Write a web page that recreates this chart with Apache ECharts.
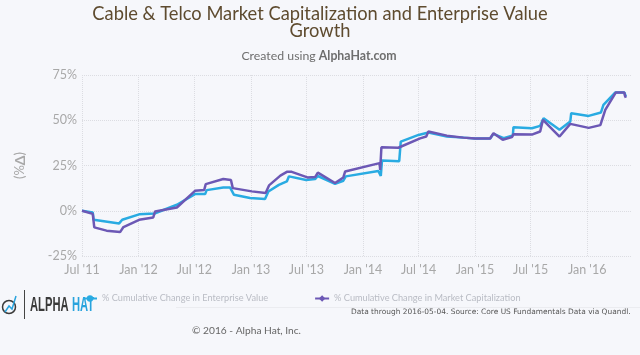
<!DOCTYPE html>
<html>
<head>
<meta charset="utf-8">
<style>
  html, body { margin: 0; padding: 0; background: #f6f7fb; }
  #chart { width: 640px; height: 355px; }
</style>
<script src="https://cdn.jsdelivr.net/npm/echarts@6/dist/echarts.min.js"></script>
</head>
<body>
<div id="chart"></div>
<script>
const FONT = "Lato, 'Noto Sans', sans-serif";

const tickDates = ['2011-07-01', '2012-01-01', '2012-07-01', '2013-01-01', '2013-07-01', '2014-01-01',
  '2014-07-01', '2015-01-01', '2015-07-01', '2016-01-01'];
const tickLabels = ["Jul '11", "Jan '12", "Jul '12", "Jan '13", "Jul '13", "Jan '14",
  "Jul '14", "Jan '15", "Jul '15", "Jan '16"];

const evDates = ['2011-07-01', '2011-08-05', '2011-08-08', '2011-10-30', '2011-11-09', '2012-01-03', '2012-02-22',
  '2012-05-05', '2012-07-03', '2012-08-05', '2012-08-10', '2012-10-03', '2012-10-25', '2012-11-07', '2012-12-29',
  '2013-02-16', '2013-02-27', '2013-04-02', '2013-04-28', '2013-05-05', '2013-06-30', '2013-07-29', '2013-08-07',
  '2013-10-02', '2013-10-29', '2013-11-06', '2014-02-20', '2014-02-28', '2014-03-04', '2014-04-29', '2014-05-04',
  '2014-07-01', '2014-08-02', '2014-08-08', '2014-10-01', '2014-11-24', '2015-01-01', '2015-02-19', '2015-03-02',
  '2015-04-04', '2015-05-04', '2015-05-06', '2015-07-05', '2015-08-01', '2015-08-07', '2015-08-12', '2015-10-03',
  '2015-11-07', '2015-11-10', '2016-01-06', '2016-02-15', '2016-02-23', '2016-04-01', '2016-05-01', '2016-05-06'];
const evValues = [0, -0.9, -5, -7, -5, -2, -1.5,
  3.3, 9.2, 9.2, 11.4, 12.8, 12.9, 8.8, 7,
  6.5, 10.6, 14.3, 16.2, 19, 17, 17.5, 19.2,
  14.9, 16.6, 19, 22, 19.3, 27.8, 27.4, 38.2,
  41.9, 43.2, 43.8, 41, 40.4, 39.9, 39.9, 42.5,
  40.1, 41.6, 46.2, 45.6, 46.9, 46.9, 51.1, 44.7,
  49.3, 53.9, 52.4, 54.3, 58.5, 65.3, 65.3, 63.1];

const capDates = ['2011-07-01', '2011-08-05', '2011-08-10', '2011-09-19', '2011-11-02', '2011-11-13', '2012-01-03',
  '2012-02-18', '2012-02-24', '2012-02-25', '2012-05-05', '2012-07-03', '2012-08-02', '2012-08-07', '2012-10-03',
  '2012-10-28', '2012-11-03', '2013-01-04', '2013-02-18', '2013-03-01', '2013-04-07', '2013-04-28', '2013-05-14',
  '2013-07-04', '2013-07-29', '2013-08-07', '2013-10-02', '2013-10-29', '2013-11-04', '2014-02-24', '2014-02-26',
  '2014-03-02', '2014-04-26', '2014-07-06', '2014-07-26', '2014-08-02', '2014-08-08', '2014-10-01', '2014-11-24',
  '2015-01-01', '2015-02-19', '2015-03-02', '2015-04-01', '2015-05-01', '2015-05-06', '2015-07-05', '2015-08-01',
  '2015-08-04', '2015-08-10', '2015-10-03', '2015-11-07', '2016-01-06', '2016-02-13', '2016-02-29', '2016-04-03',
  '2016-05-01', '2016-05-03', '2016-05-06'];
const capValues = [0, -1.7, -9.2, -11, -11.8, -9, -5,
  -3.7, -0.4, -1.3, 1.8, 11, 11.5, 14.7, 17.5,
  17, 12.5, 10.7, 9.8, 14, 19.4, 21.5, 21.5,
  18.4, 18.6, 21.1, 15.3, 18.4, 21.7, 26.3, 22.6,
  35.1, 34.8, 40, 41, 43.8, 44.2, 41.5, 40.4,
  39.9, 39.9, 42.8, 39.2, 40.7, 42.3, 42.1, 43.8,
  42.9, 50.2, 41, 48, 45.8, 47.3, 55.7, 65.3,
  65.3, 63.5, 62.4];

const EV_NAME = '% Cumulative Change in Enterprise Value';
const CAP_NAME = '% Cumulative Change in Market Capitalization';
const BLUE = '#29abe2';
const PURPLE = '#6c58b5';
const TICK_GREY = '#a8a8a8';

function toTime(d) {
  return Date.UTC(+d.slice(0, 4), +d.slice(5, 7) - 1, +d.slice(8, 10));
}

function zip(dates, values) {
  return dates.map((d, i) => [toTime(d), values[i]]);
}

// time axis rejects customValues, so x is a value axis in ms with half-year ticks
const tickTimes = tickDates.map(toTime);

const chart = echarts.init(document.getElementById('chart'));
chart.setOption({
  backgroundColor: '#f6f7fb',
  animation: false,
  textStyle: { fontFamily: FONT },
  title: [
    {
      text: 'Cable & Telco Market Capitalization and Enterprise Value\nGrowth',
      left: 315, top: 1, textAlign: 'center',
      textStyle: { fontFamily: FONT, fontSize: 18.3, fontWeight: 'normal', color: '#5e4b2f', lineHeight: 17 },
    },
    {
      text: 'Created using {b|AlphaHat.com}',
      left: 314, top: 45, textAlign: 'center',
      textStyle: {
        fontFamily: FONT, fontSize: 12.3, fontWeight: 'normal', color: '#6e6e6e',
        rich: { b: { fontFamily: FONT, fontSize: 12.3, fontWeight: 'bold', color: '#6e6e6e' } },
      },
    },
  ],
  legend: {
    left: 77, top: 289, itemGap: 46, itemWidth: 14, itemHeight: 8,
    textStyle: { fontFamily: FONT, fontSize: 9.2, color: '#b9bcc4' },
    data: [EV_NAME, CAP_NAME],
  },
  grid: { left: 82, right: 8, top: 75, bottom: 99 },
  xAxis: {
    type: 'value',
    min: toTime('2011-07-01'),
    max: toTime('2016-05-26'),
    axisLine: { show: false },
    axisTick: { show: false, customValues: tickTimes },
    axisLabel: {
      customValues: tickTimes,
      color: TICK_GREY, fontSize: 12.5, margin: 7,
      formatter: (v) => tickLabels[tickTimes.indexOf(v)] || '',
    },
    splitLine: { show: true, lineStyle: { color: '#dcdde2', type: 'dotted', width: 1 } },
  },
  yAxis: {
    type: 'value',
    min: -25, max: 75, interval: 25,
    name: '(%{b|Δ})',
    nameLocation: 'middle',
    nameGap: 55,
    nameTextStyle: {
      color: TICK_GREY, fontSize: 13,
      rich: { b: { color: TICK_GREY, fontSize: 14, fontWeight: 'bold' } },
    },
    axisLine: { show: false },
    axisTick: { show: false },
    axisLabel: { color: TICK_GREY, fontSize: 12.5, margin: 5, formatter: '{value}%' },
    splitLine: { lineStyle: { color: '#dcdde2', type: 'dotted', width: 1 } },
  },
  series: [
    {
      name: EV_NAME, type: 'line', showSymbol: false, symbol: 'circle', symbolSize: 8,
      lineStyle: { color: BLUE, width: 2.5 }, itemStyle: { color: BLUE },
      data: zip(evDates, evValues),
    },
    {
      name: CAP_NAME, type: 'line', showSymbol: false, symbol: 'diamond', symbolSize: 9,
      lineStyle: { color: PURPLE, width: 2.5 }, itemStyle: { color: PURPLE },
      data: zip(capDates, capValues),
    },
  ],
  graphic: [
    { type: 'line', silent: true, shape: { x1: 176, y1: 307.5, x2: 640, y2: 307.5 }, style: { stroke: '#ebecf0', lineWidth: 1 } },
    { type: 'text', left: 351, top: 309, style: { text: 'Data through 2016-05-04. Source: Core US Fundamentals Data via Quandl.', font: "7.45px 'DejaVu Sans'", fill: '#555' } },
    { type: 'text', left: 192, top: 326, style: { text: '© 2016 - Alpha Hat, Inc.', font: "10.2px " + FONT, fill: '#666' } },
    // logo
    { type: 'line', silent: true, shape: { x1: 24.5, y1: 290, x2: 24.5, y2: 319 }, style: { stroke: '#444', lineWidth: 1 } },
    { type: 'text', x: 30, y: 295, scaleX: 0.56, style: { text: 'ALPHA', font: "bold 20px 'Liberation Sans'", fill: '#3a3a3a' } },
    { type: 'text', x: 72, y: 295, scaleX: 0.56, style: { text: 'HAT', font: "bold 20px 'Liberation Sans'", fill: '#29a3dd' } },
    { type: 'circle', silent: true, shape: { cx: 9, cy: 307, r: 6.5 }, style: { fill: 'none', stroke: '#3a3a3a', lineWidth: 1.5 } },
    { type: 'polyline', silent: true, shape: { points: [[5, 312], [9, 306], [12, 309], [16, 296]] }, style: { fill: 'none', stroke: '#29a3dd', lineWidth: 1.5 } },
  ],
});
</script>
</body>
</html>
